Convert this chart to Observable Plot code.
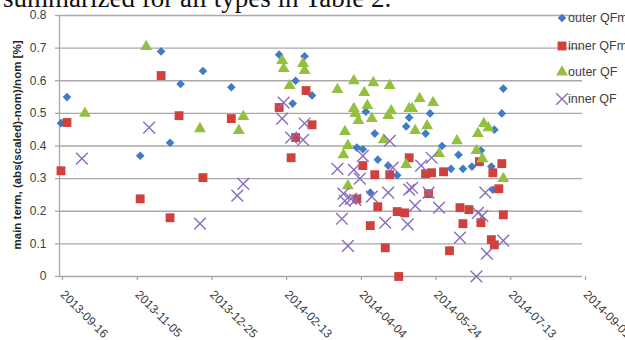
<!DOCTYPE html>
<html>
<head>
<meta charset="utf-8">
<script src="https://cdn.jsdelivr.net/npm/d3@7"></script>
<script src="https://cdn.jsdelivr.net/npm/@observablehq/plot@0.6"></script>
<style>
  html, body { margin: 0; padding: 0; background: #fff; }
  #wrap { position: relative; width: 625px; height: 340px; overflow: hidden; background: #fff; }
  #wrap > svg.plot { position: absolute; left: 0; top: 0; }
  #legend { position: absolute; left: 0; top: 0; width: 625px; height: 340px; pointer-events: none; }
  #doctext { position: absolute; left: 0; top: 0; }
</style>
</head>
<body>
<div id="wrap"></div>
<script>
// ---- data ----
const seriesNames = ["outer QFm", "inner QFm", "outer QF", "inner QF"];
const xTickLabels = ["2013-09-16","2013-11-05","2013-12-25","2014-02-13","2014-04-04","2014-05-24","2014-07-13","2014-09-01"];
const yTicks = [0, 0.1, 0.2, 0.3, 0.4, 0.5, 0.6, 0.7, 0.8];
const yLabel = "main term, (abs(scaled)-nom)/nom [%]";
const docText = "summarized for all types in Table 2.";

const outerQFmDates = ["2013-09-17","2013-09-21","2013-11-09","2013-11-23","2013-11-29","2013-12-06","2013-12-21","2014-01-09","2014-02-10","2014-02-19","2014-02-21","2014-02-27","2014-03-04","2014-04-03","2014-04-07","2014-04-09","2014-04-12","2014-04-15","2014-04-17","2014-04-24","2014-04-30","2014-05-06","2014-05-08","2014-05-19","2014-05-22","2014-05-30","2014-06-05","2014-06-10","2014-06-13","2014-06-19","2014-06-25","2014-07-02","2014-07-03","2014-07-04","2014-07-09","2014-07-10"];
const outerQFmValues = [0.47,0.55,0.37,0.69,0.41,0.59,0.63,0.58,0.68,0.53,0.60,0.675,0.555,0.395,0.39,0.505,0.257,0.438,0.358,0.34,0.31,0.46,0.487,0.438,0.50,0.40,0.33,0.373,0.33,0.337,0.386,0.337,0.266,0.45,0.50,0.576];

const innerQFmDates = ["2013-09-17","2013-09-21","2013-11-09","2013-11-23","2013-11-29","2013-12-05","2013-12-21","2014-01-09","2014-02-10","2014-02-18","2014-02-21","2014-02-28","2014-03-04","2014-04-03","2014-04-07","2014-04-12","2014-04-15","2014-04-17","2014-04-22","2014-04-25","2014-04-30","2014-05-01","2014-05-05","2014-05-08","2014-05-19","2014-05-21","2014-05-23","2014-05-31","2014-06-04","2014-06-11","2014-06-13","2014-06-17","2014-06-24","2014-06-25","2014-07-02","2014-07-03","2014-07-04","2014-07-07","2014-07-09","2014-07-10"];
const innerQFmValues = [0.324,0.472,0.238,0.616,0.18,0.493,0.303,0.484,0.518,0.364,0.426,0.57,0.465,0.238,0.34,0.156,0.312,0.214,0.088,0.312,0.199,0.0,0.195,0.364,0.315,0.254,0.318,0.321,0.079,0.211,0.162,0.205,0.352,0.165,0.113,0.318,0.097,0.269,0.346,0.189];

const outerQFDates = ["2013-10-03","2013-11-13","2013-12-19","2014-01-14","2014-01-17","2014-02-12","2014-02-13","2014-02-17","2014-02-26","2014-02-27","2014-03-21","2014-03-25","2014-03-26","2014-03-28","2014-03-28","2014-04-01","2014-04-01","2014-04-02","2014-04-04","2014-04-08","2014-04-10","2014-04-13","2014-04-14","2014-04-21","2014-04-24","2014-04-25","2014-04-26","2014-05-06","2014-05-08","2014-05-10","2014-05-12","2014-05-15","2014-05-20","2014-05-24","2014-05-28","2014-06-09","2014-06-22","2014-06-23","2014-06-26","2014-06-27","2014-06-30","2014-07-10"];
const outerQFValues = [0.50,0.705,0.453,0.447,0.49,0.662,0.637,0.585,0.653,0.631,0.573,0.373,0.444,0.401,0.278,0.60,0.515,0.499,0.478,0.564,0.524,0.484,0.594,0.419,0.493,0.585,0.508,0.343,0.515,0.515,0.447,0.545,0.462,0.533,0.377,0.416,0.386,0.438,0.361,0.469,0.456,0.30];

const innerQFDates = ["2013-10-01","2013-11-15","2013-12-19","2014-01-13","2014-01-17","2014-02-12","2014-02-13","2014-02-18","2014-02-26","2014-02-27","2014-03-21","2014-03-25","2014-03-24","2014-03-26","2014-03-28","2014-03-30","2014-04-01","2014-04-02","2014-04-05","2014-04-07","2014-04-13","2014-04-22","2014-04-24","2014-04-25","2014-04-27","2014-05-07","2014-05-08","2014-05-10","2014-05-12","2014-05-16","2014-05-21","2014-05-23","2014-05-28","2014-06-11","2014-06-22","2014-06-23","2014-06-26","2014-06-28","2014-06-29","2014-07-10"];
const innerQFValues = [0.361,0.456,0.162,0.248,0.284,0.484,0.533,0.426,0.419,0.469,0.33,0.254,0.177,0.232,0.094,0.238,0.327,0.235,0.30,0.37,0.245,0.165,0.257,0.416,0.334,0.16,0.266,0.272,0.217,0.34,0.257,0.364,0.211,0.119,0.0,0.195,0.186,0.257,0.07,0.11];

// ---- styling ----
const colors = {"outer QFm": "#3f7cc8", "inner QFm": "#d0403c", "outer QF": "#93c13f", "inner QF": "#8a6cbd"};
const gridColor = "#a9a9a9";
const textColor = "#404040";

const parse = d3.utcParse("%Y-%m-%d");
const fmt = d3.utcFormat("%Y-%m-%d");
const mk = (dates, values, s) => dates.map((d, i) => ({date: parse(d), value: values[i], series: s}));
const outerQFm = mk(outerQFmDates, outerQFmValues, "outer QFm");
const innerQFm = mk(innerQFmDates, innerQFmValues, "inner QFm");
const outerQF = mk(outerQFDates, outerQFValues, "outer QF");
const innerQF = mk(innerQFDates, innerQFValues, "inner QF");

const xTicks = xTickLabels.map(parse);
const xDomain = [xTicks[0], xTicks[xTicks.length - 1]];

const chart = Plot.plot({
  width: 625,
  height: 340,
  marginLeft: 59,
  marginRight: 43,
  marginTop: 15,
  marginBottom: 64,
  style: {fontFamily: "'Liberation Sans', Arial, sans-serif", background: "transparent", color: textColor, overflow: "visible"},
  x: {type: "utc", domain: xDomain},
  y: {domain: [yTicks[0], yTicks[yTicks.length - 1]]},
  marks: [
    Plot.gridY(yTicks, {stroke: gridColor, strokeOpacity: 1, strokeWidth: 1.3}),
    Plot.ruleX([xDomain[0]], {stroke: gridColor, strokeWidth: 1.3}),
    Plot.axisY({ticks: yTicks, tickSize: 4, tickPadding: 9, stroke: gridColor, strokeWidth: 1.3,
      tickFormat: d => d === 0 ? "0" : d.toFixed(1), fontSize: 12, fill: textColor, label: null}),
    Plot.axisX({ticks: xTicks, tickSize: 4, tickPadding: 12, tickRotate: 45, dx: 3, stroke: gridColor, strokeWidth: 1.3,
      tickFormat: fmt, fontSize: 12, fill: textColor, label: null}),
    Plot.text([yLabel], {frameAnchor: "left", dx: -42, dy: -1, rotate: -90, fontSize: 11.5, fontWeight: "bold",
      fill: "#262626", lineAnchor: "middle", textAnchor: "middle"}),
    Plot.dot(outerQFm, {x: "date", y: "value", symbol: "diamond2", r: 3.9, fill: colors["outer QFm"], stroke: "none"}),
    Plot.dot(innerQFm, {x: "date", y: "value", symbol: "square", r: 5, fill: colors["inner QFm"], stroke: "none"}),
    Plot.dot(outerQF, {x: "date", y: "value", symbol: "triangle", r: 4.4, fill: colors["outer QF"], stroke: "none"}),
    Plot.dot(innerQF, {x: "date", y: "value", symbol: "times", r: 5.4, stroke: colors["inner QF"], strokeWidth: 1.4, fill: "none"})
  ]
});
chart.classList.add("plot");
const wrap = document.getElementById("wrap");
wrap.appendChild(chart);

// document text cut off at the top of the picture
const ns = "http://www.w3.org/2000/svg";
const doc = document.createElementNS(ns, "svg");
doc.setAttribute("id", "doctext");
doc.setAttribute("width", 625);
doc.setAttribute("height", 20);
const dt = document.createElementNS(ns, "text");
dt.setAttribute("x", 3);
dt.setAttribute("y", 7);
dt.setAttribute("font-family", "'Liberation Serif', 'Times New Roman', serif");
dt.setAttribute("font-size", 27);
dt.setAttribute("fill", "#111");
dt.textContent = docText;
doc.appendChild(dt);
wrap.appendChild(doc);

// legend (right side, drawn over the grid)
const lg = document.createElementNS(ns, "svg");
lg.setAttribute("id", "legend");
lg.setAttribute("width", 625);
lg.setAttribute("height", 340);
const legendSymbols = {"outer QFm": d3.symbolDiamond2, "inner QFm": d3.symbolSquare, "outer QF": d3.symbolTriangle, "inner QF": d3.symbolTimes};
const legendR = {"outer QFm": 3.9, "inner QFm": 5, "outer QF": 4.4, "inner QF": 5.4};
const legendRowY = [18, 46, 72, 99];
seriesNames.forEach((s, i) => {
  const g = document.createElementNS(ns, "g");
  g.setAttribute("transform", `translate(562,${legendRowY[i]})`);
  const p = document.createElementNS(ns, "path");
  p.setAttribute("d", d3.symbol(legendSymbols[s], Math.PI * legendR[s] * legendR[s])());
  if (s === "inner QF") {
    p.setAttribute("fill", "none");
    p.setAttribute("stroke", colors[s]);
    p.setAttribute("stroke-width", 1.4);
  } else {
    p.setAttribute("fill", colors[s]);
  }
  g.appendChild(p);
  const t = document.createElementNS(ns, "text");
  t.setAttribute("x", 6);
  t.setAttribute("y", 0);
  t.setAttribute("dy", "0.35em");
  t.setAttribute("font-family", "'Liberation Sans', Arial, sans-serif");
  t.setAttribute("font-size", 12.5);
  t.setAttribute("fill", textColor);
  t.textContent = s;
  g.appendChild(t);
  lg.appendChild(g);
});
wrap.appendChild(lg);
</script>
</body>
</html>
